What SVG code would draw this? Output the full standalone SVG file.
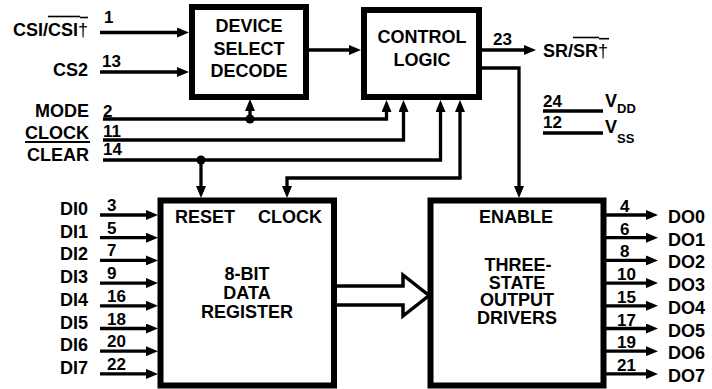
<svg xmlns="http://www.w3.org/2000/svg" width="712" height="389" viewBox="0 0 712 389">
<style>
.t{font-family:"Liberation Sans",Arial,sans-serif;font-weight:bold;font-size:18px;fill:#000}
.n{font-family:"Liberation Sans",Arial,sans-serif;font-weight:bold;font-size:17px;fill:#000}
.s{font-family:"Liberation Sans",Arial,sans-serif;font-weight:bold;font-size:13px;fill:#000}
.m{text-anchor:middle}
.e{text-anchor:end}
.box{fill:#fff;stroke:#000;stroke-width:6}
.w{fill:none;stroke:#000;stroke-width:3.3}
.a{fill:none;stroke:#000;stroke-width:3.3;marker-end:url(#ah)}
.ol{stroke:#000;stroke-width:1.6}
</style>
<defs>
<marker id="ah" markerUnits="userSpaceOnUse" markerWidth="12" markerHeight="10" refX="6" refY="5" orient="auto">
<path d="M0,0 L12,5 L0,10 z" fill="#000"/>
</marker>
</defs>
<rect width="712" height="389" fill="#fff"/>

<g id="connectors">
<path class="a" d="M100,32.5 H183"/>
<path class="a" d="M100,72 H183"/>
<path class="a" d="M309,50 H355"/>
<path class="a" d="M103,119 H386.5 V106"/>
<path class="a" d="M250,119 V105"/>
<circle cx="250" cy="119" r="4.5" fill="#000"/>
<path class="a" d="M103,140 H403.5 V106"/>
<path class="a" d="M103,160 H440.5 V106"/>
<path class="a" d="M201,160 V192"/>
<circle cx="201" cy="160" r="4.5" fill="#000"/>
<path class="a" d="M460,178 V106"/>
<path class="a" d="M461.6,178 H287 V192"/>
<path class="a" d="M482,50 H530"/>
<path class="a" d="M482,68 H519 V192"/>
<path class="w" d="M543,111 H603"/>
<path class="w" d="M543,133 H603"/>
<path class="a" d="M100,215 H152"/>
<path class="a" d="M100,237.7 H152"/>
<path class="a" d="M100,260.4 H152"/>
<path class="a" d="M100,283.1 H152"/>
<path class="a" d="M100,305.8 H152"/>
<path class="a" d="M100,328.5 H152"/>
<path class="a" d="M100,351.2 H152"/>
<path class="a" d="M100,373.9 H152"/>
<path class="a" d="M606,215 H652"/>
<path class="a" d="M606,237.7 H652"/>
<path class="a" d="M606,260.4 H652"/>
<path class="a" d="M606,283.1 H652"/>
<path class="a" d="M606,305.8 H652"/>
<path class="a" d="M606,328.5 H652"/>
<path class="a" d="M606,351.2 H652"/>
<path class="a" d="M606,373.9 H652"/>
<polygon points="334,286 403,286 403,275 429,295.5 403,316 403,305 334,305" fill="#fff" stroke="#000" stroke-width="3.5" stroke-linejoin="miter"/>
</g>

<g id="device-select-decode">
<rect class="box" x="192" y="7" width="114" height="90"/>
<text class="t m" x="249" y="32">DEVICE</text>
<text class="t m" x="249" y="55">SELECT</text>
<text class="t m" x="249" y="77">DECODE</text>
</g>

<g id="control-logic">
<rect class="box" x="364" y="10" width="115" height="87"/>
<text class="t m" x="422" y="43">CONTROL</text>
<text class="t m" x="422" y="66">LOGIC</text>
</g>

<g id="data-register">
<rect class="box" x="160.5" y="200.5" width="173.5" height="185"/>
<text class="t" x="175" y="223">RESET</text>
<text class="t" x="258" y="223">CLOCK</text>
<text class="t m" x="247" y="280">8-BIT</text>
<text class="t m" x="247" y="299">DATA</text>
<text class="t m" x="247" y="318">REGISTER</text>
</g>

<g id="output-drivers">
<rect class="box" x="430.5" y="200.5" width="173" height="185"/>
<text class="t m" x="516" y="223">ENABLE</text>
<text class="t m" x="518" y="271">THREE-</text>
<text class="t m" x="517" y="289">STATE</text>
<text class="t m" x="517" y="306">OUTPUT</text>
<text class="t m" x="517" y="324">DRIVERS</text>
</g>

<g id="inputs">
<text class="t e" x="88" y="36">CSI/CSI<tspan font-weight="normal">†</tspan></text>
<line class="ol" x1="48" y1="16.5" x2="80" y2="16.5"/>
<line class="ol" x1="80" y1="17.5" x2="88" y2="17.5"/>
<text class="n" x="104" y="23">1</text>
<text class="t e" x="88" y="76">CS2</text>
<text class="n" x="102" y="67">13</text>
<text class="t e" x="89" y="117">MODE</text>
<text class="n" x="103" y="117">2</text>
<text class="t e" x="89" y="139">CLOCK</text>
<text class="n" x="103" y="137">11</text>
<line x1="25" y1="142" x2="90" y2="142" stroke="#000" stroke-width="2.2"/>
<text class="t e" x="89" y="161">CLEAR</text>
<text class="n" x="103" y="155">14</text>
<text class="t e" x="88" y="215">DI0</text>
<text class="t e" x="88" y="237.7">DI1</text>
<text class="t e" x="88" y="260.4">DI2</text>
<text class="t e" x="88" y="283.1">DI3</text>
<text class="t e" x="88" y="305.8">DI4</text>
<text class="t e" x="88" y="328.5">DI5</text>
<text class="t e" x="88" y="351.2">DI6</text>
<text class="t e" x="88" y="373.9">DI7</text>
<text class="n" x="107" y="211">3</text>
<text class="n" x="107" y="233.7">5</text>
<text class="n" x="107" y="256.4">7</text>
<text class="n" x="107" y="279.1">9</text>
<text class="n" x="107" y="301.8">16</text>
<text class="n" x="107" y="324.5">18</text>
<text class="n" x="107" y="347.2">20</text>
<text class="n" x="107" y="369.9">22</text>
</g>

<g id="outputs">
<text class="n" x="493" y="45">23</text>
<text class="t" x="543" y="57">SR/SR<tspan font-weight="normal">†</tspan></text>
<line class="ol" x1="573" y1="37.5" x2="599" y2="37.5"/>
<line class="ol" x1="599" y1="38.7" x2="609" y2="38.7"/>
<text class="n" x="543" y="107">24</text>
<text class="n" x="543" y="128">12</text>
<text class="t" x="605" y="107">V</text>
<text class="s" x="617" y="113">DD</text>
<text class="t" x="605" y="133">V</text>
<text class="s" x="617" y="143">SS</text>
<text class="n" x="620" y="212">4</text>
<text class="n" x="620" y="234.7">6</text>
<text class="n" x="620" y="257.4">8</text>
<text class="n" x="617" y="280.1">10</text>
<text class="n" x="617" y="302.8">15</text>
<text class="n" x="617" y="325.5">17</text>
<text class="n" x="617" y="348.2">19</text>
<text class="n" x="617" y="370.9">21</text>
<text class="t" x="668" y="223">DO0</text>
<text class="t" x="668" y="245.7">DO1</text>
<text class="t" x="668" y="268.4">DO2</text>
<text class="t" x="668" y="291.1">DO3</text>
<text class="t" x="668" y="313.8">DO4</text>
<text class="t" x="668" y="336.5">DO5</text>
<text class="t" x="668" y="359.2">DO6</text>
<text class="t" x="668" y="381.9">DO7</text>
</g>
</svg>
